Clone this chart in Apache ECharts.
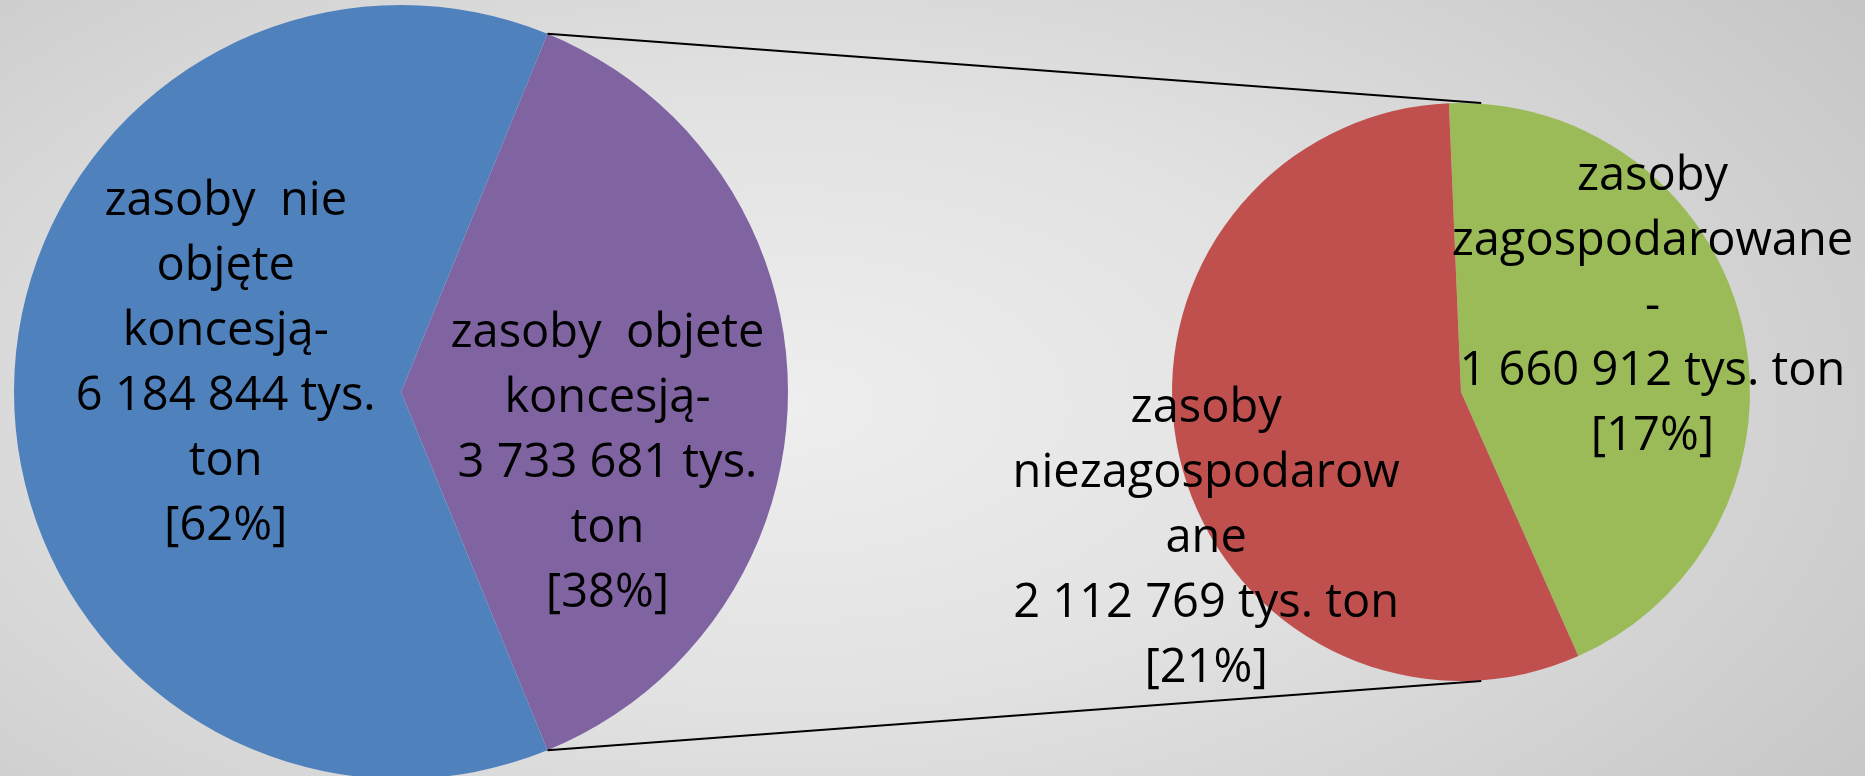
<!DOCTYPE html>
<html>
<head>
    <meta charset="UTF-8">
    <title>zasoby</title>
    <script src="https://cdn.jsdelivr.net/npm/echarts@6/dist/echarts.min.js"></script>
    <style>
        html, body {
            margin: 0;
            padding: 0;
        }
        body {
            background: radial-gradient(ellipse 75% 95% at 42% 52%, #eeeeee 0%, #e2e2e2 40%, #c3c3c3 100%);
        }
    </style>
</head>
<body>
<div id="main" style="width: 1865px;height:776px;"></div>
<script type="text/javascript">
    // dane - duży wykres (lewy)
    var leftNames = ['zasoby  objete\nkoncesją-', 'zasoby  nie\nobjęte\nkoncesją-'];
    var leftValues = [3733681, 6184844];
    // dane - mały wykres (prawy)
    var rightNames = ['zasoby\nzagospodarowane\n-', 'zasoby\nniezagospodarow\nane'];
    var rightValues = [1660912, 2112769];
    // podział "tys. ton"
    var leftUnitSep = ['\n', '\n'];
    var rightUnitSep = [' ', ' '];

    var leftColors = ['#8064a2', '#4f81bd'];
    var rightColors = ['#9bbb59', '#c0504d'];

    var total = leftValues.reduce(function (a, b) { return a + b; }, 0);

    // geometria
    var c1 = [401, 392], r1 = 387;
    var c2 = [1461, 392], r2 = 289;
    // przesunięcia etykiet (px)
    var leftShift = [[13, 72], [-55, -28]];
    var rightShift = [[53, -73], [-169, 146]];

    function fmt(v) {
        return String(v).replace(/\B(?=(\d{3})+(?!\d))/g, ' ');
    }

    function makeData(names, values, colors, seps) {
        var out = [];
        for (var i = 0; i < names.length; i++) {
            out.push({
                name: names[i],
                value: values[i],
                itemStyle: {color: colors[i]},
                label: {
                    formatter: names[i] + '\n' + fmt(values[i]) + ' tys.' + seps[i] + 'ton\n[' +
                        Math.round(values[i] / total * 100) + '%]'
                }
            });
        }
        return out;
    }

    function shiftLayout(shifts) {
        return function (p) {
            var s = shifts[p.dataIndex];
            return {
                x: p.rect.x + p.rect.width / 2 + s[0],
                y: p.rect.y + p.rect.height / 2 + s[1]
            };
        };
    }

    // kąt startowy: lewy wycinek (objęte) symetrycznie wokół osi poziomej
    var leftStart = leftValues[0] / total * 180;
    var rightStart = 92.4;

    var chart_text = {
        color: '#000',
        fontFamily: '"Open Sans", "Noto Sans", sans-serif',
        fontSize: 47,
        lineHeight: 65,
        fontWeight: 'normal'
    };

    // linie łączące
    var a = leftStart * Math.PI / 180;
    var p1 = [c1[0] + r1 * Math.cos(a), c1[1] - r1 * Math.sin(a)];
    var p2 = [c1[0] + r1 * Math.cos(a), c1[1] + r1 * Math.sin(a)];
    var q1 = [c2[0] + 0.07 * r2, c2[1] - r2];
    var q2 = [c2[0] + 0.07 * r2, c2[1] + r2];

    var myChart = echarts.init(document.getElementById('main'));
    myChart.setOption({
        animation: false,
        backgroundColor: 'transparent',
        graphic: [
            {type: 'line', shape: {x1: p1[0], y1: p1[1], x2: q1[0], y2: q1[1]}, style: {stroke: '#000', lineWidth: 2}, z: 10},
            {type: 'line', shape: {x1: p2[0], y1: p2[1], x2: q2[0], y2: q2[1]}, style: {stroke: '#000', lineWidth: 2}, z: 10}
        ],
        series: [{
            type: 'pie',
            center: c1,
            radius: [0, r1],
            startAngle: leftStart,
            clockwise: true,
            silent: true,
            label: Object.assign({show: true, position: 'inside', align: 'center'}, chart_text),
            labelLine: {show: false},
            labelLayout: shiftLayout(leftShift),
            itemStyle: {borderWidth: 0},
            data: makeData(leftNames, leftValues, leftColors, leftUnitSep)
        }, {
            type: 'pie',
            center: c2,
            radius: [0, r2],
            startAngle: rightStart,
            clockwise: true,
            silent: true,
            label: Object.assign({show: true, position: 'inside', align: 'center'}, chart_text),
            labelLine: {show: false},
            labelLayout: shiftLayout(rightShift),
            itemStyle: {borderWidth: 0},
            data: makeData(rightNames, rightValues, rightColors, rightUnitSep)
        }]
    });
</script>
</body>
</html>
